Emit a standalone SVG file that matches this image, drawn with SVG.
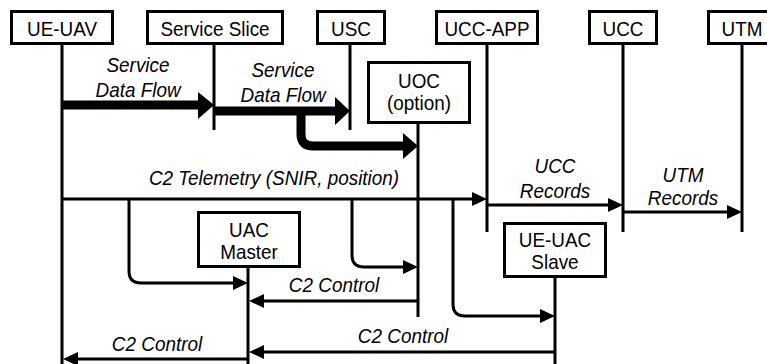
<svg xmlns="http://www.w3.org/2000/svg" width="767" height="364" viewBox="0 0 767 364">
  <style>
    .box { fill: #fff; stroke: #000; stroke-width: 3; }
    .life { stroke: #000; stroke-width: 3; fill: none; }
    .msg { stroke: #000; stroke-width: 3; fill: none; }
    .flow { stroke: #000; stroke-width: 9; fill: none; }
    .head { fill: #000; stroke: none; }
    text { font-family: "Liberation Sans", Arial, sans-serif; font-size: 21px; fill: #000; text-anchor: middle;
           transform-box: fill-box; transform-origin: center; transform: scaleX(0.9); }
    .lbl { font-style: italic; }
  </style>
  <rect width="767" height="364" fill="#fff"/>

  <!-- lifelines -->
  <g id="lifelines">
    <line class="life" x1="62" y1="44" x2="62" y2="364"/>
    <line class="life" x1="214" y1="44" x2="214" y2="130"/>
    <line class="life" x1="350" y1="44" x2="350" y2="130"/>
    <line class="life" x1="487" y1="44" x2="487" y2="232"/>
    <line class="life" x1="623" y1="44" x2="623" y2="232"/>
    <line class="life" x1="742" y1="44" x2="742" y2="232"/>
    <line class="life" x1="418" y1="123" x2="418" y2="317"/>
    <line class="life" x1="248" y1="267" x2="248" y2="364"/>
    <line class="life" x1="555" y1="277" x2="555" y2="364"/>
  </g>

  <!-- connectors -->
  <g id="connectors">
    <!-- service data flows (thick) -->
    <line class="flow" x1="62" y1="105" x2="200" y2="105"/>
    <polygon class="head" points="198,92 214,105 198,119"/>
    <line class="flow" x1="214" y1="111" x2="337" y2="111"/>
    <polygon class="head" points="335,97 350,111 335,125"/>
    <path class="flow" d="M301,111 V134 Q301,146 313,146 H405"/>
    <polygon class="head" points="403,133 418,146 403,159"/>

    <!-- C2 telemetry -->
    <line class="msg" x1="62" y1="199" x2="474" y2="199"/>
    <polygon class="head" points="472,192 487,199 472,206"/>
    <path class="msg" d="M129,199 V271 Q129,283 141,283 H236"/>
    <polygon class="head" points="233,276 248,283 233,290"/>
    <path class="msg" d="M352,199 V255 Q352,267 364,267 H406"/>
    <polygon class="head" points="403,260 418,267 403,274"/>
    <path class="msg" d="M453,199 V304 Q453,316 465,316 H543"/>
    <polygon class="head" points="540,309 555,316 540,323"/>

    <!-- records -->
    <line class="msg" x1="487" y1="205" x2="610" y2="205"/>
    <polygon class="head" points="608,198 623,205 608,212"/>
    <line class="msg" x1="623" y1="212" x2="729" y2="212"/>
    <polygon class="head" points="727,205 742,212 727,219"/>

    <!-- C2 control -->
    <line class="msg" x1="418" y1="301" x2="262" y2="301"/>
    <polygon class="head" points="264,294 249,301 264,308"/>
    <line class="msg" x1="555" y1="352" x2="262" y2="352"/>
    <polygon class="head" points="264,345 249,352 264,359"/>
    <line class="msg" x1="248" y1="359" x2="76" y2="359"/>
    <polygon class="head" points="78,352 63,359 78,366"/>
  </g>

  <!-- labels -->
  <g id="labels">
    <text class="lbl" x="138" y="72">Service</text>
    <text class="lbl" x="138" y="97">Data Flow</text>
    <text class="lbl" x="283" y="77">Service</text>
    <text class="lbl" x="283" y="102">Data Flow</text>
    <text class="lbl" x="274" y="185">C2 Telemetry (SNIR, position)</text>
    <text class="lbl" x="555" y="173">UCC</text>
    <text class="lbl" x="555" y="198">Records</text>
    <text class="lbl" x="683" y="182">UTM</text>
    <text class="lbl" x="683" y="205">Records</text>
    <text class="lbl" x="334" y="292">C2 Control</text>
    <text class="lbl" x="403" y="343">C2 Control</text>
    <text class="lbl" x="157" y="351">C2 Control</text>
  </g>

  <!-- nodes -->
  <g id="ue-uav">
    <rect class="box" x="11.5" y="11.5" width="101" height="32"/>
    <text x="62" y="36.5">UE-UAV</text>
  </g>
  <g id="service-slice">
    <rect class="box" x="147.5" y="11.5" width="135" height="32"/>
    <text x="215" y="36.5">Service Slice</text>
  </g>
  <g id="usc">
    <rect class="box" x="317.5" y="11.5" width="67" height="32"/>
    <text x="351" y="36.5">USC</text>
  </g>
  <g id="ucc-app">
    <rect class="box" x="436.5" y="11.5" width="101" height="32"/>
    <text x="487" y="36.5">UCC-APP</text>
  </g>
  <g id="ucc">
    <rect class="box" x="589.5" y="11.5" width="67" height="32"/>
    <text x="623" y="36.5">UCC</text>
  </g>
  <g id="utm">
    <rect class="box" x="708.5" y="11.5" width="67" height="32"/>
    <text x="742" y="36.5">UTM</text>
  </g>
  <g id="uoc">
    <rect class="box" x="368.5" y="62.5" width="101" height="60"/>
    <text x="419" y="88">UOC</text>
    <text x="419" y="110">(option)</text>
  </g>
  <g id="uac-master">
    <rect class="box" x="198.5" y="212.5" width="101" height="54"/>
    <text x="249" y="237">UAC</text>
    <text x="249" y="259">Master</text>
  </g>
  <g id="ue-uac-slave">
    <rect class="box" x="504.5" y="223.5" width="101" height="53"/>
    <text x="555" y="247">UE-UAC</text>
    <text x="555" y="269">Slave</text>
  </g>
</svg>
